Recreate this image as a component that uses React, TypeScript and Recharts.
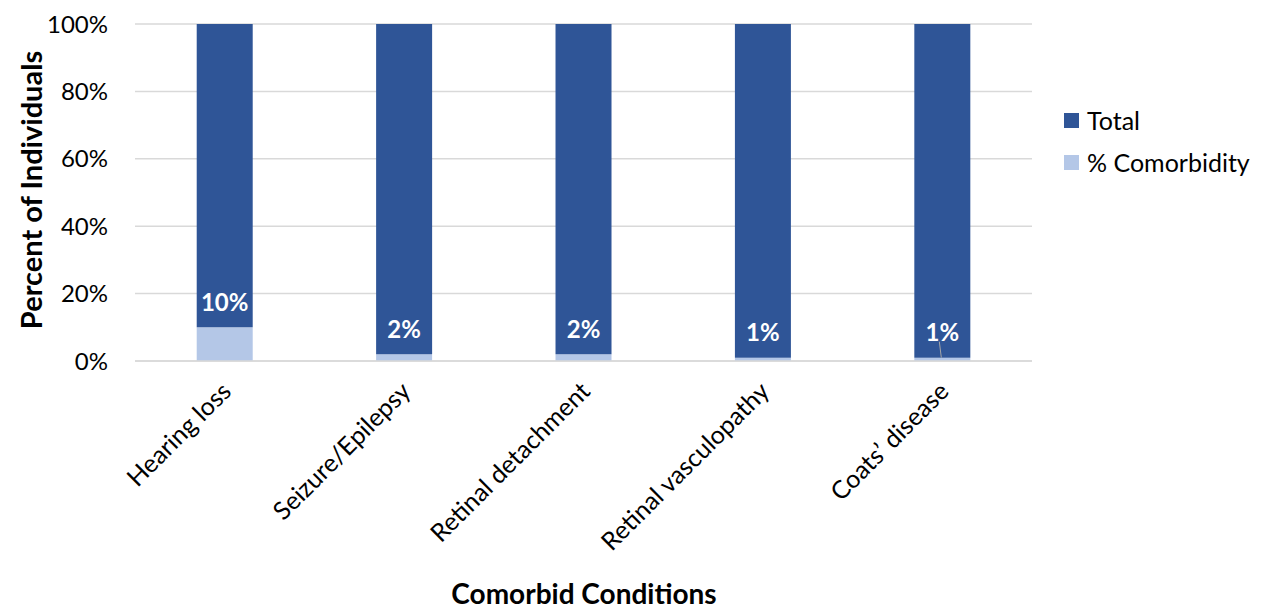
import { BarChart, Bar, XAxis, YAxis, CartesianGrid, Legend, LabelList, Label } from 'recharts'

const categories = ['Hearing loss', 'Seizure/Epilepsy', 'Retinal detachment', 'Retinal vasculopathy', 'Coats\u2019 disease']
const comorbidity = [10, 2, 2, 1, 1]
const total = [90, 98, 98, 99, 99]
const yTicks = [0, 20, 40, 60, 80, 100]

const data = categories.map((name, i) => ({
  name,
  comorbidity: comorbidity[i],
  total: total[i],
}))

const DARK = '#2F5597'
const LIGHT = '#B4C7E7'
const FONT = 'Lato, "Open Sans", sans-serif'

function XTick({ x, y, payload }: any) {
  return (
    <text
      transform={`translate(${x + 8},${y + 24}) rotate(-45)`}
      textAnchor="end"
      fontFamily={FONT}
      fontSize={25}
      fill="#000"
    >
      {payload.value}
    </text>
  )
}

function ComorbidLabel({ x, y, width, value, index }: any) {
  const cx = x + width / 2
  return (
    <g>
      {index === categories.length - 1 && (
        <line x1={cx - 3} y1={y - 16} x2={cx - 1} y2={y} stroke="#A6A6A6" strokeWidth={1} />
      )}
      <text
        x={cx}
        y={y - 26}
        textAnchor="middle"
        dominantBaseline="central"
        fontFamily={FONT}
        fontWeight={700}
        fontSize={24}
        fill="#fff"
      >
        {value}%
      </text>
    </g>
  )
}

function LegendBox() {
  const items = [
    { label: 'Total', color: DARK },
    { label: '% Comorbidity', color: LIGHT },
  ]
  return (
    <div style={{ fontFamily: FONT, fontSize: 25, color: '#000' }}>
      {items.map((it) => (
        <div key={it.label} style={{ display: 'flex', alignItems: 'center', height: 42 }}>
          <span style={{ width: 15, height: 15, background: it.color, marginRight: 8, display: 'inline-block' }} />
          {it.label}
        </div>
      ))}
    </div>
  )
}

export default function App() {
  return (
    <div style={{ position: 'absolute', left: 0, top: 0, background: '#fff' }}>
      <BarChart
        width={1264}
        height={610}
        data={data}
        margin={{ top: 24, right: 32, bottom: 0, left: 0 }}
        barCategoryGap="34.4%"
      >
        <CartesianGrid vertical={false} stroke="#D9D9D9" strokeWidth={1.5} />
        <XAxis
          dataKey="name"
          height={249}
          tick={<XTick />}
          tickLine={false}
          axisLine={{ stroke: '#D9D9D9', strokeWidth: 1.5 }}
          interval={0}
        >
          <Label
            content={() => (
              <text x={584} y={593} textAnchor="middle" dominantBaseline="central" fontFamily={FONT} fontWeight={700} fontSize={28} fill="#000">
                Comorbid Conditions
              </text>
            )}
          />
        </XAxis>
        <YAxis
          width={135}
          domain={[0, 100]}
          ticks={yTicks}
          tickFormatter={(v: number) => `${v}%`}
          tick={{ fontFamily: FONT, fontSize: 24, fill: '#000' }}
          tickLine={false}
          tickSize={0}
          tickMargin={27}
          axisLine={false}
        >
          <Label
            content={() => (
              <text
                transform="translate(30,190) rotate(-90)"
                textAnchor="middle"
                dominantBaseline="central"
                fontFamily={FONT}
                fontWeight={700}
                fontSize={29}
                fill="#000"
              >
                Percent of Individuals
              </text>
            )}
          />
        </YAxis>
        <Legend
          layout="vertical"
          align="right"
          verticalAlign="top"
          content={<LegendBox />}
          wrapperStyle={{ left: 1064, top: 99, width: 200 }}
        />
        <Bar dataKey="comorbidity" name="% Comorbidity" stackId="a" fill={LIGHT} isAnimationActive={false}>
          <LabelList dataKey="comorbidity" content={<ComorbidLabel />} />
        </Bar>
        <Bar dataKey="total" name="Total" stackId="a" fill={DARK} isAnimationActive={false} />
      </BarChart>
    </div>
  )
}
